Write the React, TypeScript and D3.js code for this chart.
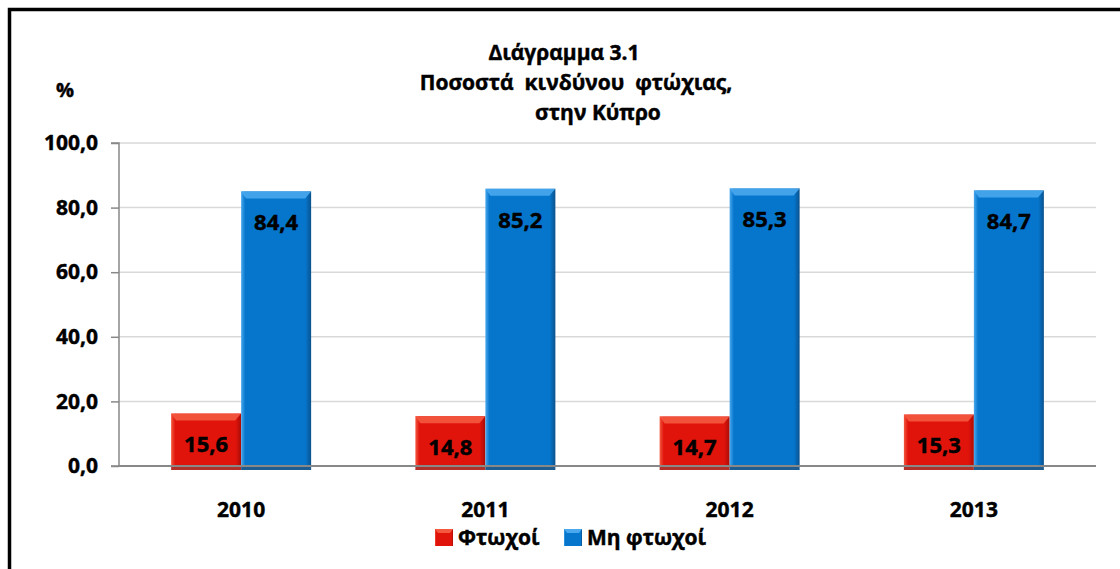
import { useEffect, useRef } from "react";
import * as d3 from "d3";

const years = ["2010", "2011", "2012", "2013"];
const seriesNames = ["Φτωχοί", "Μη φτωχοί"];
const poor = [15.6, 14.8, 14.7, 15.3];
const nonPoor = [84.4, 85.2, 85.3, 84.7];
const yTicks = [0, 20, 40, 60, 80, 100];
const titleLines = ["Διάγραμμα 3.1", "Ποσοστά  κινδύνου  φτώχιας,", "στην Κύπρο"];

const W = 1120,
  H = 569;
const margin = { top: 143, right: 24, bottom: 103, left: 119 };
const font = "'Open Sans', 'Liberation Sans', sans-serif";

const colors = [
  { main: "#e1140c", light: "#f4583f", dark: "#a80c06", depth: "#b0302a" },
  { main: "#0676cc", light: "#49a8ee", dark: "#0a528e", depth: "#1f5c90" },
];

// bold text helper, with a thin stroke to get the heavy look of the original
const boldText = (sel: any, size: number) =>
  sel
    .attr("font-family", font)
    .attr("font-weight", "bold")
    .attr("font-size", size)
    .attr("fill", "#000")
    .attr("stroke", "#000")
    .attr("stroke-width", 0.45);

function App() {
  const svgRef = useRef(null);

  const buildSVG = () => {
    const svg = d3.select(svgRef.current);
    svg.selectAll("*").remove();
    svg.attr("width", W).attr("height", H);

    const defs = svg.append("defs");
    colors.forEach((c, i) => {
      const g = defs
        .append("linearGradient")
        .attr("id", "grad" + i)
        .attr("x1", "0")
        .attr("x2", "1")
        .attr("y1", "0")
        .attr("y2", "0");
      g.append("stop").attr("offset", "0").attr("stop-color", c.light);
      g.append("stop").attr("offset", "0.06").attr("stop-color", c.main);
      g.append("stop").attr("offset", "0.92").attr("stop-color", c.main);
      g.append("stop").attr("offset", "1").attr("stop-color", c.dark);
    });

    svg.append("rect").attr("width", W).attr("height", H).attr("fill", "#fff");

    // outer frame (left & top visible)
    svg
      .append("path")
      .attr("d", `M9.5,${H + 5} L9.5,9.5 L${W + 5},9.5`)
      .attr("fill", "none")
      .attr("stroke", "#000")
      .attr("stroke-width", 3.5);

    const innerW = W - margin.left - margin.right;
    const innerH = H - margin.top - margin.bottom;

    const x0 = d3.scaleBand().domain(years).range([margin.left, margin.left + innerW]);
    const groupW = 140;
    const x1 = d3
      .scaleBand()
      .domain(seriesNames)
      .range([(x0.bandwidth() - groupW) / 2, (x0.bandwidth() + groupW) / 2]);
    const y = d3.scaleLinear().domain([0, 100]).range([margin.top + innerH, margin.top]);

    // gridlines
    svg
      .append("g")
      .selectAll("line")
      .data(yTicks.filter((d) => d > 0))
      .enter()
      .append("line")
      .attr("x1", margin.left)
      .attr("x2", margin.left + innerW)
      .attr("y1", (d) => y(d))
      .attr("y2", (d) => y(d))
      .attr("stroke", "#d9d9d9")
      .attr("stroke-width", 1.5);

    // y axis
    const yAxis = d3
      .axisLeft(y)
      .tickValues(yTicks)
      .tickSize(8)
      .tickPadding(13)
      .tickFormat((d) => d3.format(".1f")(d as number).replace(".", ","));
    const ya = svg.append("g").attr("transform", `translate(${margin.left},0)`).call(yAxis);
    ya.selectAll("path, line").attr("stroke", "#888").attr("stroke-width", 1.5);
    ya.select(".domain").attr("d", `M-8,${y(100)}H0V${y(0)}H-8`);
    boldText(ya.selectAll("text"), 21);

    const data = [poor, nonPoor];

    // bars
    years.forEach((yr, i) => {
      const g = svg.append("g").attr("transform", `translate(${x0(yr)},0)`);
      seriesNames.forEach((s, si) => {
        const v = data[si][i];
        const bx = x1(s) as number;
        const bw = x1.bandwidth();
        const top = y(v) - 2;
        const base = y(0);
        const c = colors[si];
        // depth below baseline
        g.append("rect")
          .attr("x", bx)
          .attr("y", base)
          .attr("width", bw)
          .attr("height", 4)
          .attr("fill", c.depth);
        g.append("rect")
          .attr("x", bx)
          .attr("y", top)
          .attr("width", bw)
          .attr("height", base - top)
          .attr("fill", `url(#grad${si})`);
        // top bevel
        g.append("polygon")
          .attr(
            "points",
            `${bx},${top} ${bx + bw},${top} ${bx + bw - 6},${top + 7} ${bx + 5},${top + 7}`
          )
          .attr("fill", c.light)
          .attr("opacity", 0.9);
        boldText(
          g
            .append("text")
            .attr("x", bx + bw / 2)
            .attr("y", top + 31)
            .attr("dy", "0.35em")
            .attr("text-anchor", "middle"),
          22
        ).text(v.toFixed(1).replace(".", ","));
      });
    });

    // baseline
    svg
      .append("line")
      .attr("x1", margin.left)
      .attr("x2", margin.left + innerW)
      .attr("y1", y(0))
      .attr("y2", y(0))
      .attr("stroke", "#888")
      .attr("stroke-width", 2);

    // x labels
    boldText(
      svg
        .append("g")
        .selectAll("text")
        .data(years)
        .enter()
        .append("text")
        .attr("x", (d) => (x0(d) as number) + x0.bandwidth() / 2)
        .attr("y", 517)
        .attr("text-anchor", "middle"),
      21
    ).text((d) => d);

    // title
    const titleX = [564, 576, 598];
    boldText(
      svg
        .append("g")
        .selectAll("text")
        .data(titleLines)
        .enter()
        .append("text")
        .attr("x", (d, i) => titleX[i])
        .attr("y", (d, i) => 60 + i * 30)
        .attr("text-anchor", "middle")
        .style("white-space", "pre"),
      21
    ).text((d) => d);

    boldText(
      svg.append("text").attr("x", 65).attr("y", 97).attr("text-anchor", "middle"),
      20
    ).text("%");

    // legend
    const legendX = [435, 564];
    seriesNames.forEach((s, si) => {
      const lg = svg.append("g").attr("transform", `translate(${legendX[si]},529)`);
      lg.append("rect").attr("width", 18).attr("height", 17).attr("fill", `url(#grad${si})`);
      lg.append("polygon")
        .attr("points", "0,0 18,0 15,4 3,4")
        .attr("fill", colors[si].light);
      boldText(lg.append("text").attr("x", 23).attr("y", 16), 21).text(s);
    });
  };

  useEffect(buildSVG, []);

  return (
    <div style={{ position: "absolute", left: 0, top: 0 }}>
      <svg ref={svgRef} style={{ display: "block" }}></svg>
    </div>
  );
}

export default App;
